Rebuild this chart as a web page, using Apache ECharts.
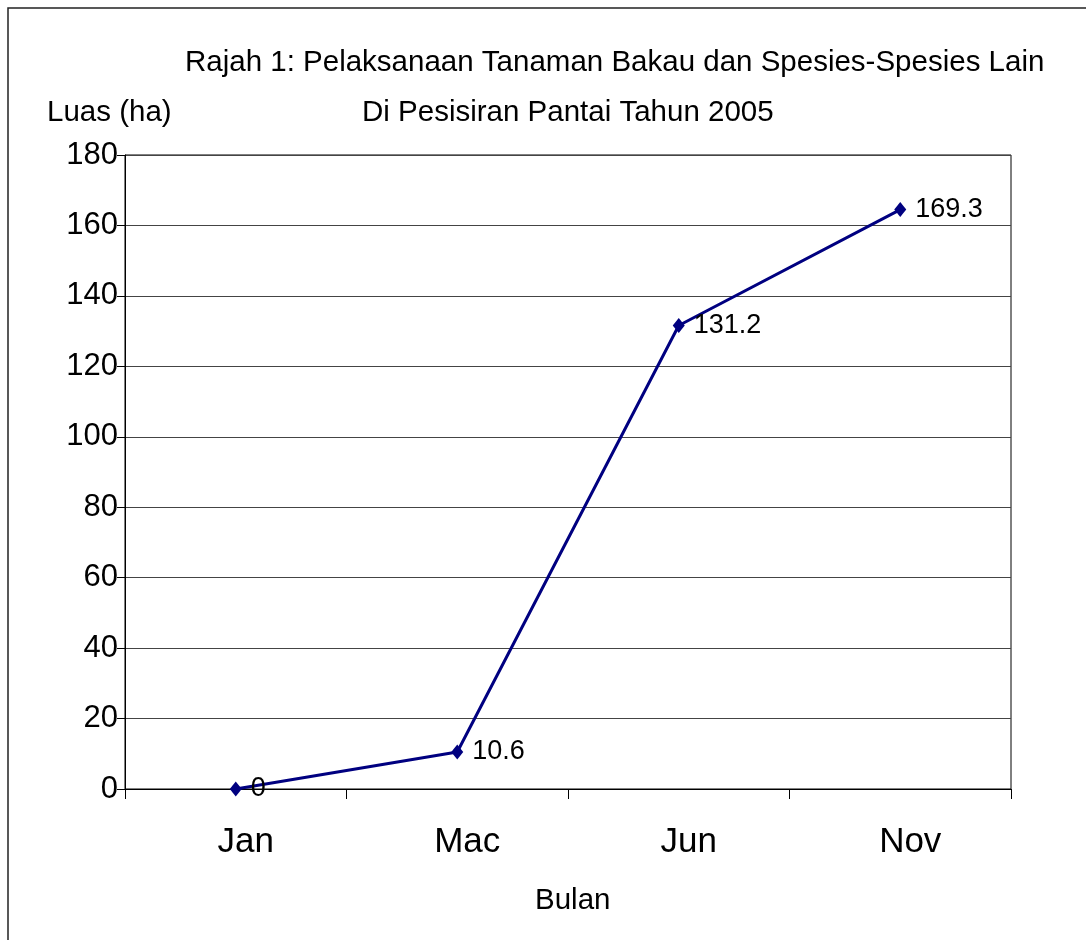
<!DOCTYPE html>
<html>
<head>
<meta charset="utf-8">
<script src="https://cdn.jsdelivr.net/npm/echarts@6/dist/echarts.min.js"></script>
<style>
  html, body { margin: 0; padding: 0; background: #fff; }
  #chart { width: 1086px; height: 940px; }
</style>
</head>
<body>
<div id="chart"></div>
<script>
// data
var months = ['Jan', 'Mac', 'Jun', 'Nov'];
var luas = [0, 10.5, 131.6, 164.5];           // plotted positions
var luasLabels = ['0', '10.6', '131.2', '169.3']; // printed values
var yTicks = [0, 20, 40, 60, 80, 100, 120, 140, 160, 180];

var font = "'Liberation Sans', Arial, sans-serif";
var chart = echarts.init(document.getElementById('chart'), null, { renderer: 'canvas' });

var txt = { fontFamily: font, fontSize: 29.5, fontWeight: 'normal', color: '#000' };

var option = {
  backgroundColor: '#fff',
  animation: false,
  title: [
    { text: 'Rajah 1: Pelaksanaan Tanaman Bakau dan Spesies-Spesies Lain', left: 185, top: 48, padding: 0, textStyle: txt },
    { text: 'Di Pesisiran Pantai Tahun 2005', left: 362, top: 98, padding: 0, textStyle: txt },
    { text: 'Luas (ha)', left: 47, top: 98, padding: 0, textStyle: txt },
    { text: 'Bulan', left: 535, top: 886, padding: 0, textStyle: txt }
  ],
  graphic: [
    { type: 'rect', shape: { x: 8, y: 8, width: 1100, height: 960 },
      style: { fill: 'none', stroke: '#222', lineWidth: 1.5 } }
  ],
  grid: { left: 125, right: 75, top: 155, bottom: 151, show: true, borderColor: '#000', borderWidth: 1 },
  xAxis: {
    type: 'category',
    data: months,
    boundaryGap: true,
    axisLine: { lineStyle: { color: '#000', width: 1 } },
    axisTick: { show: true, length: 10, lineStyle: { color: '#000' } },
    axisLabel: { fontFamily: font, fontSize: 35, color: '#000', margin: 36, padding: [0, 0, 0, 20] }
  },
  yAxis: {
    type: 'value',
    min: yTicks[0],
    max: yTicks[yTicks.length - 1],
    interval: 20,
    axisLine: { show: true, lineStyle: { color: '#000', width: 1 } },
    axisTick: { show: true, length: 8, lineStyle: { color: '#000' } },
    axisLabel: { fontFamily: font, fontSize: 31, color: '#000', margin: 7 },
    splitLine: { show: true, lineStyle: { color: '#444', width: 1 } }
  },
  series: [{
    type: 'line',
    data: luas,
    symbol: 'diamond',
    symbolSize: [12, 15],
    itemStyle: { color: '#000080' },
    lineStyle: { color: '#000080', width: 3 },
    label: {
      show: true,
      position: 'right',
      distance: 9,
      fontFamily: font,
      fontSize: 27,
      color: '#000',
      formatter: function (p) { return luasLabels[p.dataIndex]; }
    }
  }]
};

chart.setOption(option);
</script>
</body>
</html>
